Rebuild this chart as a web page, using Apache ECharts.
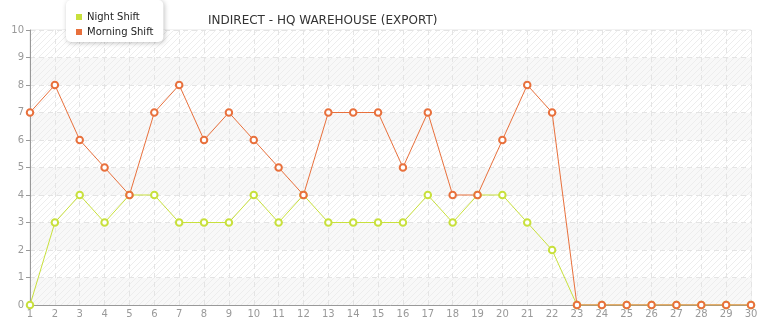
<!DOCTYPE html>
<html><head><meta charset="utf-8">
<script src="https://cdn.jsdelivr.net/npm/echarts@6/dist/echarts.min.js"></script>
<style>html,body{margin:0;padding:0;background:#fff}#c{width:765px;height:320px}</style>
</head><body><div id="c"></div>
<script>
const categories = ['1','2','3','4','5','6','7','8','9','10','11','12','13','14','15','16','17','18','19','20','21','22','23','24','25','26','27','28','29','30'];
const nightShift = [0,3,4,3,4,4,3,3,3,4,3,4,3,3,3,3,4,3,4,4,3,2,0,0,0,0,0,0,0,0];
const morningShift = [7,8,6,5,4,7,8,6,7,6,5,4,7,7,7,5,7,4,4,6,8,7,0,0,0,0,0,0,0,0];
const yTicks = [0,1,2,3,4,5,6,7,8,9,10];

function hatch(bg){
  const c=document.createElement('canvas');c.width=6;c.height=6;
  const g=c.getContext('2d');g.fillStyle=bg;g.fillRect(0,0,6,6);
  g.strokeStyle='#ededed';g.lineWidth=1;
  g.beginPath();g.moveTo(0,6);g.lineTo(6,0);g.moveTo(-3,3);g.lineTo(3,-3);g.moveTo(3,9);g.lineTo(9,3);g.stroke();
  return {image:c,repeat:'repeat'};
}
const font='DejaVu Sans';
const chart=echarts.init(document.getElementById('c'));
chart.setOption({
  animation:false,
  textStyle:{fontFamily:font},
  title:{text:'INDIRECT - HQ WAREHOUSE (EXPORT)',left:203,top:10,textStyle:{fontSize:12,fontWeight:'normal',color:'#333',fontFamily:font}},
  legend:{orient:'vertical',left:66,top:0,padding:[12,10,5,10],itemGap:5,itemWidth:6,itemHeight:6,icon:'rect',
    backgroundColor:'#fff',borderRadius:5,shadowColor:'rgba(0,0,0,0.25)',shadowBlur:5,shadowOffsetX:1,shadowOffsetY:1,
    textStyle:{fontSize:10,color:'#222',fontFamily:font},data:['Night Shift','Morning Shift']},
  grid:{left:30,right:14,top:30,bottom:15,show:true,borderColor:'#e4e4e4',borderWidth:1,backgroundColor:'transparent'},
  xAxis:{type:'category',data:categories,boundaryGap:false,
    axisLine:{lineStyle:{color:'#999'}},axisTick:{show:false},
    axisLabel:{color:'#999',fontSize:10,margin:4,interval:0},
    splitLine:{show:true,lineStyle:{color:'#e4e4e4',type:[5,4]}}},
  yAxis:{type:'value',min:0,max:10,interval:1,
    axisLine:{show:true,lineStyle:{color:'#999'}},axisTick:{show:true,length:4,lineStyle:{color:'#999'}},
    axisLabel:{color:'#999',fontSize:10,margin:6,formatter:v=>yTicks.includes(v)?String(v):''},
    splitLine:{lineStyle:{color:'#e4e4e4',type:[5,4]}},
    splitArea:{show:true,areaStyle:{color:[hatch('#f8f8f8'),hatch('#ffffff')]}}},
  series:[
    {name:'Night Shift',type:'line',data:nightShift,color:'#c8e03c',symbol:'emptyCircle',symbolSize:6.5,lineStyle:{width:1},itemStyle:{borderWidth:1}},
    {name:'Morning Shift',type:'line',data:morningShift,color:'#e8703c',symbol:'emptyCircle',symbolSize:6.5,lineStyle:{width:1},itemStyle:{borderWidth:1}}
  ]
});
</script></body></html>
